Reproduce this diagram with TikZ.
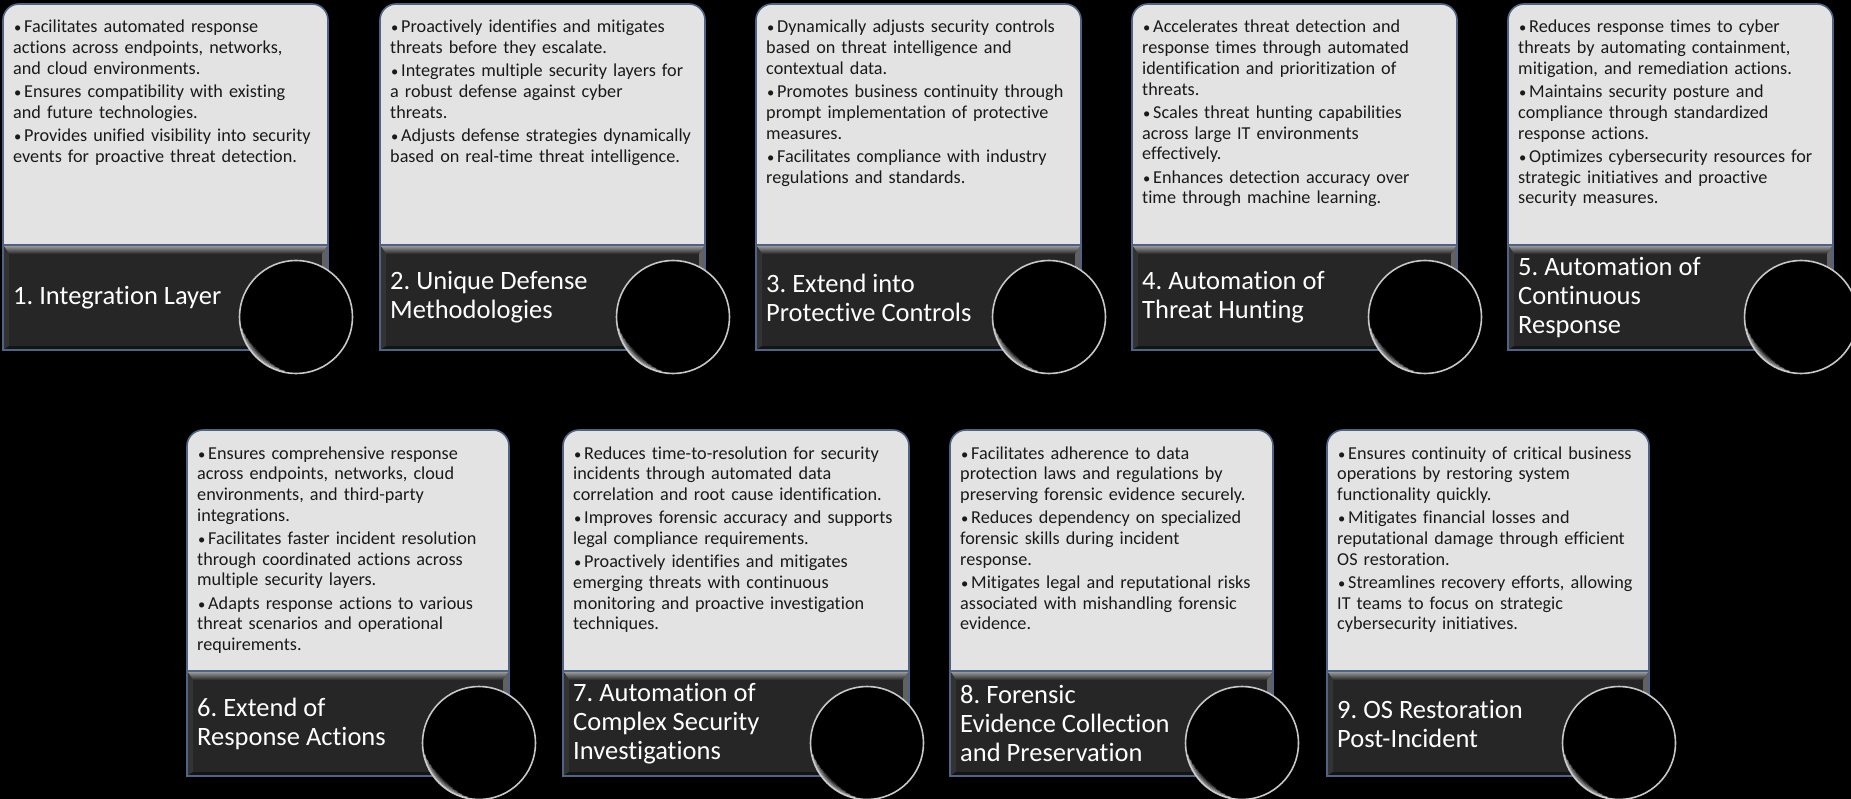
\documentclass[tikz,border=0pt]{standalone}
\usepackage{fontspec}
\setmainfont{Carlito}[Ligatures=NoCommon]
\frenchspacing

\definecolor{cardgray}{HTML}{E3E3E3}
\definecolor{bandgray}{HTML}{262626}
\definecolor{edgeblue}{HTML}{4E6484}
\definecolor{textgray}{HTML}{1A1A1A}

% bullet item with hanging indent
\newcommand{\itm}[1]{\par\hangindent=11pt\hangafter=1\noindent\makebox[11pt][l]{\hspace{1pt}\scalebox{0.8}{\textbullet}}\rule{0pt}{14pt}#1}

% card: id, left, top, width, lens offset, bullets, title
\newcommand{\card}[7]{
  \pgfmathsetmacro\cdR{#2+#4}
  \pgfmathsetmacro\cdB{#3+241}
  \pgfmathsetmacro\cdE{#3+346}
  \pgfmathsetmacro\cdM{#3+293.5}
  \pgfmathsetmacro\cdX{#2+#5}
  \pgfmathsetmacro\cdY{#3+313}
  % light panel
  \fill[panelfill] (#2,\cdB) [rounded corners=16pt] -- (#2,#3) -- (\cdR,#3) [sharp corners] -- (\cdR,\cdB) -- cycle;
  % dark band with bevel
  \fill[bandfill] (#2,\cdB) rectangle (\cdR,\cdE);
  \shade[top color=black!35, bottom color=black!85] (#2,\cdB) -- (\cdR,\cdB) -- (\cdR-6,\cdB+9) -- (#2+6,\cdB+9) -- cycle;
  \fill[black!62] (\cdR,\cdB) -- (\cdR-6,\cdB+9) -- (\cdR-6,\cdE-4) -- (\cdR,\cdE) -- cycle;
  \fill[black!80] (#2,\cdB) -- (#2+6,\cdB+9) -- (#2+6,\cdE-4) -- (#2,\cdE) -- cycle;
  \fill[black!92] (#2,\cdE) -- (#2+6,\cdE-4) -- (\cdR-6,\cdE-4) -- (\cdR,\cdE) -- cycle;
  \draw[cardline] (#2,\cdE) [rounded corners=16pt] -- (#2,#3) -- (\cdR,#3) [sharp corners] -- (\cdR,\cdE) -- cycle;
  \draw[cardline] (#2,\cdB) -- (\cdR,\cdB);
  % texts
  \node[bullets] (b#1) at (#2+10,#3+5.5) {#6};
  \node[headline] (t#1) at (#2+10,\cdM) {#7};
  % lens with glow on the lower left
  \node[lens] (c#1) at (\cdX,\cdY) {};
  \foreach \k in {1,...,5}
    \draw[white, opacity=0.6-0.1*\k, line width=1.2pt]
      plot[samples=25, domain={96+6*\k}:{174-6*\k}, variable=\t] ({\cdX+(56.4-1*\k)*cos(\t)}, {\cdY+(56.4-1*\k)*sin(\t)});
}

\begin{document}
\begin{tikzpicture}[
    x=1pt, y=-1pt,
    panelfill/.style={fill=cardgray},
    bandfill/.style={fill=bandgray},
    cardline/.style={draw=edgeblue, line width=1.6pt},
    bullets/.style={anchor=north west, text width=330pt, align=left, inner sep=0pt,
      font={\fontsize{18.2}{20.7}\selectfont\setlength{\parskip}{2.6pt}}, text=textgray},
    headline/.style={anchor=west, align=left, inner sep=0pt,
      font={\fontsize{26.5}{29}\selectfont}, text=white},
    lens/.style={circle, fill=black, draw=white!78!black, line width=1.6pt, minimum size=113pt, inner sep=0pt}
  ]
  \useasboundingbox (0,0) rectangle (1851,799);
  \clip (0,0) rectangle (1851,799);
  \fill[black] (0,0) rectangle (1851,799);

  % first row
  \card{1}{3}{4}{325}{293}{%
    \itm{Facilitates automated response\\actions across endpoints, networks,\\and cloud environments.}
    \itm{Ensures compatibility with existing\\and future technologies.}
    \itm{Provides unified visibility into security\\events for proactive threat detection.}}{1. Integration Layer}
  \card{2}{380}{4}{325}{293}{%
    \itm{Proactively identifies and mitigates\\threats before they escalate.}
    \itm{Integrates multiple security layers for\\a robust defense against cyber\\threats.}
    \itm{Adjusts defense strategies dynamically\\based on real-time threat intelligence.}}{2. Unique Defense\\Methodologies}
  \card{3}{756}{4}{325}{293}{%
    \itm{Dynamically adjusts security controls\\based on threat intelligence and\\contextual data.}
    \itm{Promotes business continuity through\\prompt implementation of protective\\measures.}
    \itm{Facilitates compliance with industry\\regulations and standards.}}{3. Extend into\\Protective Controls}
  \card{4}{1132}{4}{325}{293}{%
    \itm{Accelerates threat detection and\\response times through automated\\identification and prioritization of\\threats.}
    \itm{Scales threat hunting capabilities\\across large IT environments\\effectively.}
    \itm{Enhances detection accuracy over\\time through machine learning.}}{4. Automation of\\Threat Hunting}
  \card{5}{1508}{4}{325}{293}{%
    \itm{Reduces response times to cyber\\threats by automating containment,\\mitigation, and remediation actions.}
    \itm{Maintains security posture and\\compliance through standardized\\response actions.}
    \itm{Optimizes cybersecurity resources for\\strategic initiatives and proactive\\security measures.}}{5. Automation of\\Continuous\\Response}

  % second row
  \card{6}{187}{430}{322}{292}{%
    \itm{Ensures comprehensive response\\across endpoints, networks, cloud\\environments, and third-party\\integrations.}
    \itm{Facilitates faster incident resolution\\through coordinated actions across\\multiple security layers.}
    \itm{Adapts response actions to various\\threat scenarios and operational\\requirements.}}{6. Extend of\\Response Actions}
  \card{7}{563}{430}{346}{304}{%
    \itm{Reduces time-to-resolution for security\\incidents through automated data\\correlation and root cause identification.}
    \itm{Improves forensic accuracy and supports\\legal compliance requirements.}
    \itm{Proactively identifies and mitigates\\emerging threats with continuous\\monitoring and proactive investigation\\techniques.}}{7. Automation of\\Complex Security\\Investigations}
  \card{8}{950}{430}{323}{292}{%
    \itm{Facilitates adherence to data\\protection laws and regulations by\\preserving forensic evidence securely.}
    \itm{Reduces dependency on specialized\\forensic skills during incident\\response.}
    \itm{Mitigates legal and reputational risks\\associated with mishandling forensic\\evidence.}}{8. Forensic\\Evidence Collection\\and Preservation}
  \card{9}{1327}{430}{322}{292}{%
    \itm{Ensures continuity of critical business\\operations by restoring system\\functionality quickly.}
    \itm{Mitigates financial losses and\\reputational damage through efficient\\OS restoration.}
    \itm{Streamlines recovery efforts, allowing\\IT teams to focus on strategic\\cybersecurity initiatives.}}{9. OS Restoration\\Post-Incident}
\end{tikzpicture}
\end{document}
